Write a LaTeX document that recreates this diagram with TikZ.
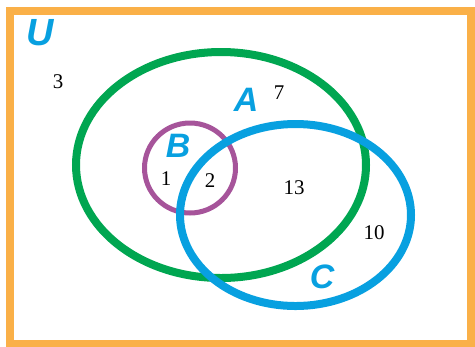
\documentclass[tikz,border=0pt]{standalone}
\usepackage{fontspec}
\setmainfont{Liberation Serif}
\setsansfont{Liberation Sans}
\definecolor{frameor}{RGB}{250,176,72}
\definecolor{setgreen}{RGB}{0,166,81}
\definecolor{setblue}{RGB}{8,160,224}
\definecolor{setpurple}{RGB}{166,84,154}
\tikzset{
  setlbl/.style={text=setblue,font=\sffamily\bfseries\itshape\fontsize{34}{34}\selectfont,inner sep=0pt},
  num/.style={text=black,font=\fontsize{21}{21}\selectfont,inner sep=0pt},
}
\begin{document}
\begin{tikzpicture}[x=1bp,y=-1bp]
\useasboundingbox (0,0) rectangle (475,346);
\draw[frameor,line width=7.5bp] (10,11) rectangle (471,344);
\draw[setgreen,line width=8bp] (221,165) ellipse[x radius=145, y radius=113];
\draw[setpurple,line width=5bp] (190,168) ellipse[x radius=45.5, y radius=45];
\draw[setblue,line width=8bp] (295.5,215) ellipse[x radius=115.5, y radius=91];
\node[setlbl,font=\sffamily\bfseries\itshape\fontsize{38}{38}\selectfont] (U) at (40,33) {U};
\node[setlbl] (A) at (246,100) {A};
\node[setlbl] (B) at (178,146) {B};
\node[setlbl] (C) at (322,277) {C};
\node[num] (n3) at (58,82) {3};
\node[num] (n7) at (279,93) {7};
\node[num] (n1) at (166,179) {1};
\node[num] (n2) at (210,181) {2};
\node[num] (n13) at (294,188) {13};
\node[num] (n10) at (374,233) {10};
\end{tikzpicture}
\end{document}
